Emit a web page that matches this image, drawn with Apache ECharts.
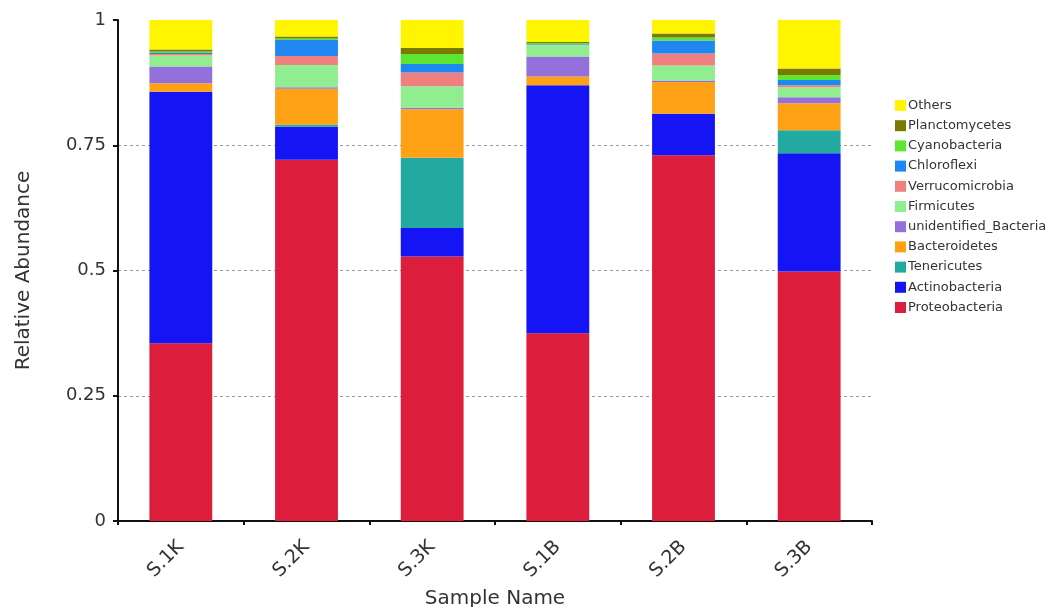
<!DOCTYPE html>
<html>
<head>
<meta charset="utf-8">
<script src="https://cdn.jsdelivr.net/npm/echarts@6/dist/echarts.min.js"></script>
<style>html,body{margin:0;padding:0;background:#fff;}#c{width:1062px;height:607px;}</style>
</head>
<body>
<div id="c"></div>
<script>
const categories = ['S.1K', 'S.2K', 'S.3K', 'S.1B', 'S.2B', 'S.3B'];
const yTicks = [0, 0.25, 0.5, 0.75, 1];

const Proteobacteria       = [0.355, 0.721, 0.528, 0.375, 0.730, 0.498];
const Actinobacteria       = [0.502, 0.066, 0.057, 0.495, 0.083, 0.236];
const Tenericutes          = [0.000, 0.004, 0.140, 0.000, 0.000, 0.046];
const Bacteroidetes        = [0.017, 0.072, 0.097, 0.017, 0.063, 0.054];
const unidentified_Bacteria= [0.033, 0.003, 0.003, 0.040, 0.003, 0.012];
const Firmicutes           = [0.022, 0.044, 0.043, 0.023, 0.030, 0.020];
const Verrucomicrobia      = [0.003, 0.018, 0.027, 0.001, 0.024, 0.004];
const Chloroflexi          = [0.002, 0.032, 0.017, 0.001, 0.026, 0.010];
const Cyanobacteria        = [0.003, 0.003, 0.020, 0.002, 0.006, 0.010];
const Planctomycetes       = [0.004, 0.004, 0.012, 0.002, 0.008, 0.013];
const Others               = [0.059, 0.033, 0.056, 0.044, 0.027, 0.097];

const seriesNames = ['Proteobacteria','Actinobacteria','Tenericutes','Bacteroidetes','unidentified_Bacteria','Firmicutes','Verrucomicrobia','Chloroflexi','Cyanobacteria','Planctomycetes','Others'];
const seriesData = [Proteobacteria, Actinobacteria, Tenericutes, Bacteroidetes, unidentified_Bacteria, Firmicutes, Verrucomicrobia, Chloroflexi, Cyanobacteria, Planctomycetes, Others];
const colors = ['#DC1E3C','#1414F5','#22A9A0','#FFA114','#9370DB','#90EE90','#F08080','#1E88F0','#5CE632','#7A7A00','#FFF500'];

const font = 'DejaVu Sans';
const chart = echarts.init(document.getElementById('c'));
chart.setOption({
  animation: false,
  backgroundColor: '#fff',
  grid: { left: 118, right: 190, top: 20, bottom: 86, containLabel: false, outerBoundsMode: 'none' },
  legend: {
    orient: 'vertical',
    left: 890, top: 94,
    itemWidth: 11, itemHeight: 11, itemGap: 7.2,
    icon: 'rect',
    data: seriesNames.slice().reverse(),
    textStyle: { fontFamily: font, fontSize: 13, color: '#333', padding: [0,0,0,-3] }
  },
  xAxis: {
    type: 'category',
    data: categories,
    name: 'Sample Name',
    nameLocation: 'middle',
    nameGap: 64,
    nameTextStyle: { fontFamily: font, fontSize: 20, color: '#333' },
    axisLine: { lineStyle: { color: '#111', width: 2 } },
    axisTick: { show: true, length: 4, lineStyle: { color: '#111', width: 2 } },
    axisLabel: { rotate: 45, fontFamily: font, fontSize: 19, color: '#333', margin: 23 }
  },
  yAxis: {
    type: 'value',
    min: 0, max: 1, interval: 0.25,
    name: 'Relative Abundance',
    nameLocation: 'middle',
    nameGap: 84,
    nameTextStyle: { fontFamily: font, fontSize: 20, color: '#333' },
    axisLine: { show: true, lineStyle: { color: '#111', width: 2 } },
    axisTick: { show: true, length: 5, lineStyle: { color: '#111', width: 2 } },
    axisLabel: {
      fontFamily: font, fontSize: 18, color: '#333', margin: 12,
      formatter: function (v) { return yTicks.indexOf(v) >= 0 ? String(v) : ''; }
    },
    splitLine: { show: true, lineStyle: { type: [3, 3], width: 1, color: ['rgba(0,0,0,0)', '#9a9a9a', '#9a9a9a', '#9a9a9a', 'rgba(0,0,0,0)'] } }
  },
  series: seriesNames.map(function (n, i) {
    return {
      name: n, type: 'bar', stack: 'total', barWidth: '50%',
      data: seriesData[i],
      itemStyle: { color: colors[i] }
    };
  })
});
</script>
</body>
</html>
